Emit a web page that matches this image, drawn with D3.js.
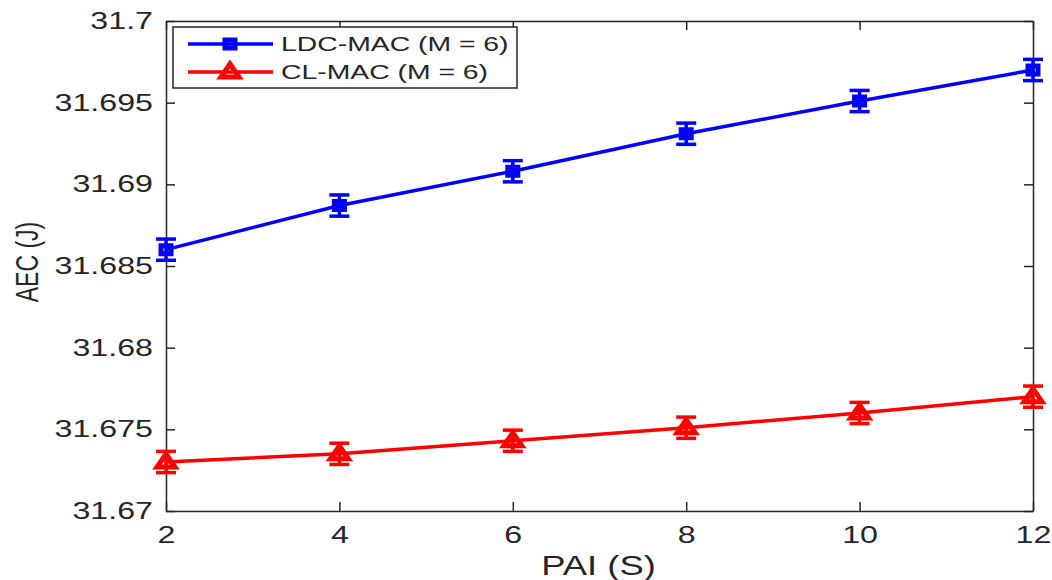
<!DOCTYPE html>
<html>
<head>
<meta charset="utf-8">
<script src="https://cdn.jsdelivr.net/npm/d3@7"></script>
<style>
  body { margin: 0; background: #fff; }
  text { font-family: "Liberation Sans", Arial, sans-serif; fill: #262626; }
</style>
</head>
<body>
<div id="chart"></div>
<script>
// data
var pai = [2, 4, 6, 8, 10, 12];
var ldcMac = [31.686, 31.6887, 31.6908, 31.6931, 31.6951, 31.6970];
var clMac = [31.6730, 31.6735, 31.6743, 31.6751, 31.6760, 31.6770];
var errLdc = [0.00065, 0.00065, 0.00065, 0.00065, 0.00065, 0.00065];
var errCl = [0.00065, 0.00065, 0.00065, 0.00065, 0.00065, 0.00065];
var xTicks = [2, 4, 6, 8, 10, 12];
var yTicks = [31.67, 31.675, 31.68, 31.685, 31.69, 31.695, 31.7];
var seriesNames = ["LDC-MAC (M = 6)", "CL-MAC (M = 6)"];

var margin = {top: 21, right: 19, bottom: 69, left: 166},
    width = 1052 - margin.left - margin.right,
    height = 580 - margin.top - margin.bottom;

var svg = d3.select("#chart")
    .append("svg")
    .attr("width", 1052)
    .attr("height", 580)
  .append("g")
    .attr("transform", "translate(" + margin.left + "," + margin.top + ")");

var x = d3.scaleLinear().domain([2, 12]).range([0, width]);
var y = d3.scaleLinear().domain([31.67, 31.7]).range([height, 0]);

var axisColor = "#262626";
var tickLen = 9;
var sx = 1.4; // the original figure is stretched horizontally

// axes (ticks inside, box on)
var gx = svg.append("g")
    .attr("transform", "translate(0," + height + ")")
    .call(d3.axisBottom(x).tickValues(xTicks).tickSizeInner(-tickLen).tickSizeOuter(0).tickPadding(16));
gx.selectAll("text")
    .style("font-size", "23px")
    .attr("transform", "scale(" + sx + ",1)");

svg.append("g")
    .call(d3.axisTop(x).tickValues(xTicks).tickSizeInner(-tickLen).tickSizeOuter(0).tickFormat(""));

var gy = svg.append("g")
    .call(d3.axisLeft(y).tickValues(yTicks).tickSizeInner(-tickLen).tickSizeOuter(0).tickPadding(13)
      .tickFormat(function(d) { return String(+d.toFixed(3)); }));
gy.selectAll("text")
    .style("font-size", "23px")
    .attr("x", -13 / sx)
    .attr("transform", "scale(" + sx + ",1)");

svg.append("g")
    .attr("transform", "translate(" + width + ",0)")
    .call(d3.axisRight(y).tickValues(yTicks).tickSizeInner(-tickLen).tickSizeOuter(0).tickFormat(""));

svg.selectAll(".domain, .tick line")
    .attr("stroke", axisColor)
    .attr("stroke-width", 1.5);

// axis labels
svg.append("text")
    .attr("transform", "translate(" + (width / 2 - 1) + "," + (height + 64) + ") scale(1.3,1)")
    .attr("text-anchor", "middle")
    .style("font-size", "28px")
    .text("PAI (S)");

svg.append("text")
    .attr("transform", "translate(" + (38 - margin.left) + "," + (262 - margin.top) + ") rotate(-90) scale(1," + sx + ")")
    .attr("text-anchor", "middle")
    .style("font-size", "23px")
    .text("AEC (J)");

var line = d3.line()
    .x(function(d) { return x(d.x); })
    .y(function(d) { return y(d.y); });

function drawSeries(values, errs, color, marker) {
  var pts = pai.map(function(p, i) { return {x: p, y: values[i], e: errs[i]}; });
  var g = svg.append("g");
  g.append("path")
    .datum(pts)
    .attr("fill", "none")
    .attr("stroke", color)
    .attr("stroke-width", 3.5)
    .attr("d", line);

  var eb = g.selectAll(".eb").data(pts).enter().append("g");
  eb.append("line")
    .attr("x1", function(d) { return x(d.x); })
    .attr("x2", function(d) { return x(d.x); })
    .attr("y1", function(d) { return y(d.y - d.e); })
    .attr("y2", function(d) { return y(d.y + d.e); })
    .attr("stroke", color).attr("stroke-width", 3.5);
  [-1, 1].forEach(function(s) {
    eb.append("line")
      .attr("x1", function(d) { return x(d.x) - 10; })
      .attr("x2", function(d) { return x(d.x) + 10; })
      .attr("y1", function(d) { return y(d.y + s * d.e); })
      .attr("y2", function(d) { return y(d.y + s * d.e); })
      .attr("stroke", color).attr("stroke-width", 3.5);
  });

  g.selectAll(".mk").data(pts).enter().append("path")
    .attr("transform", function(d) { return "translate(" + x(d.x) + "," + y(d.y) + ")"; })
    .attr("d", marker)
    .attr("fill", "none")
    .attr("stroke", color)
    .attr("stroke-width", 5)
    .attr("stroke-linejoin", "miter");
}

var squareMarker = "M-5,-4H5V4H-5Z";
var triMarker = "M0,-8L9,5H-9Z";

drawSeries(ldcMac, errLdc, "#0000ff", squareMarker);
drawSeries(clMac, errCl, "#ff0000", triMarker);

// legend
var legend = svg.append("g").attr("transform", "translate(7,6)");
legend.append("rect")
    .attr("width", 344).attr("height", 61)
    .attr("fill", "#fff")
    .attr("stroke", axisColor)
    .attr("stroke-width", 1.5);
var colors = ["#0000ff", "#ff0000"];
var markers = [squareMarker, triMarker];
seriesNames.forEach(function(name, i) {
  var row = legend.append("g").attr("transform", "translate(0," + (17 + i * 28) + ")");
  row.append("line")
    .attr("x1", 15).attr("x2", 100)
    .attr("stroke", colors[i]).attr("stroke-width", 3.5);
  row.append("path")
    .attr("transform", "translate(57,0)")
    .attr("d", markers[i])
    .attr("fill", "none")
    .attr("stroke", colors[i]).attr("stroke-width", 5);
  row.append("text")
    .attr("transform", "translate(108,0) scale(1.35,1)")
    .attr("dy", "0.35em")
    .style("font-size", "21px")
    .text(name);
});
</script>
</body>
</html>
